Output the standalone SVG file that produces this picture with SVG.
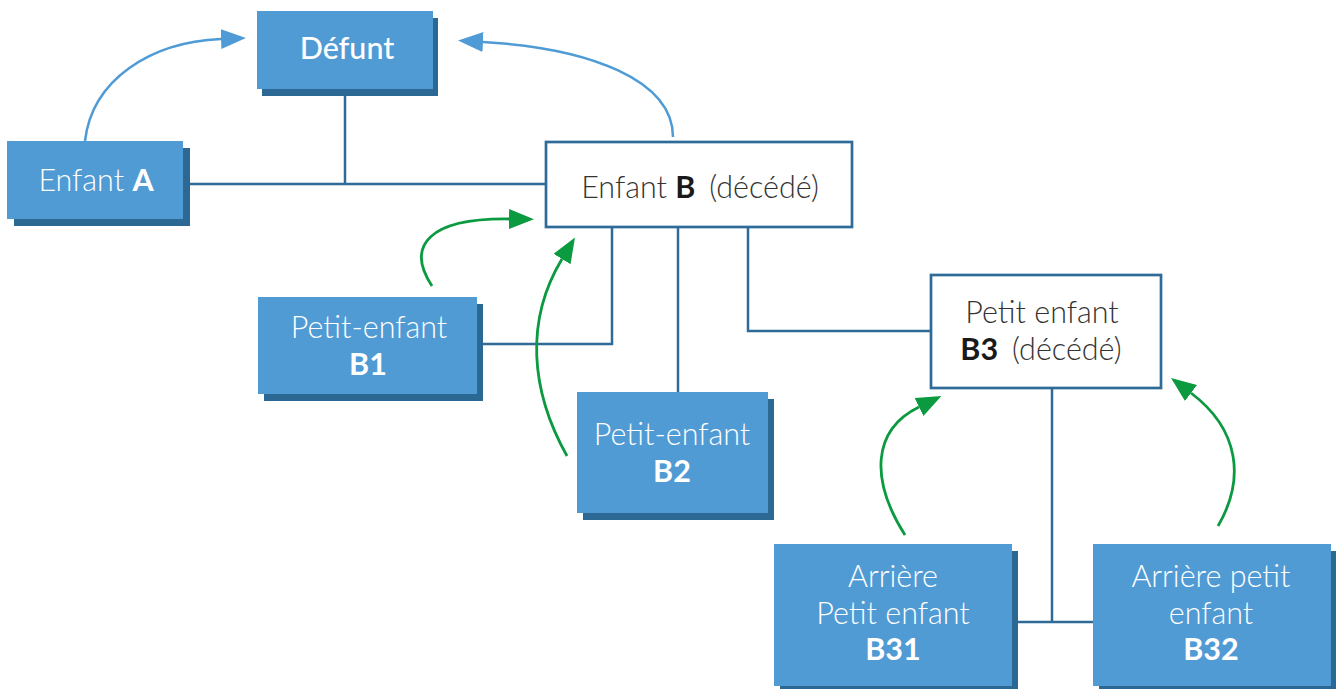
<svg xmlns="http://www.w3.org/2000/svg" width="1336" height="689" viewBox="0 0 1336 689">
<style>
.box{fill:#519bd5}
.sh{fill:#2b6893}
.wbox{fill:#ffffff;stroke:#2e6b98;stroke-width:2.7}
.ln{fill:none;stroke:#2e6b98;stroke-width:2.5}
.ab{fill:none;stroke:#4f9bd6;stroke-width:2.5}
.ag{fill:none;stroke:#0b9a40;stroke-width:2.8}
text{font-family:Lato,"Open Sans","Liberation Sans",sans-serif;font-size:30.5px;text-anchor:middle}
.wt{fill:#ffffff;font-weight:300}
.dt{fill:#333333;font-weight:300}
.b{font-weight:700}
.bk{fill:#1a1a1a;font-weight:700}
</style>
<defs>
<marker id="mb" markerUnits="userSpaceOnUse" markerWidth="26" markerHeight="20" refX="0" refY="10" orient="auto">
<path d="M0,0 L25,10 L0,20 z" fill="#4f9bd6"/>
</marker>
<marker id="mg" markerUnits="userSpaceOnUse" markerWidth="26" markerHeight="20" refX="0" refY="10" orient="auto">
<path d="M0,0 L25,10 L0,20 z" fill="#0b9a40"/>
</marker>
</defs>
<g id="connectors">
<path class="ln" d="M345,92 V184"/>
<path class="ln" d="M183,184 H546"/>
<path class="ln" d="M612,227 V344 H477"/>
<path class="ln" d="M678,227 V392"/>
<path class="ln" d="M748,227 V331 H931"/>
<path class="ln" d="M1052,388 V622"/>
<path class="ln" d="M1012,622 H1093"/>
<path class="ab" d="M85,141 C92,80 150,42 221,39" marker-end="url(#mb)"/>
<path class="ab" d="M673,137 C673,80 590,48 483,42" marker-end="url(#mb)"/>
<path class="ag" d="M432,286 C405,245 430,218 509,219" marker-end="url(#mg)"/>
<path class="ag" d="M567,456 C530,390 525,320 562,259" marker-end="url(#mg)"/>
<path class="ag" d="M905,535 C870,480 872,430 919,407" marker-end="url(#mg)"/>
<path class="ag" d="M1218,526 C1245,480 1240,430 1191,393" marker-end="url(#mg)"/>
</g>
<g id="defunt">
<rect class="sh" x="262" y="18" width="176" height="78"/>
<rect class="box" x="257" y="11" width="176" height="78"/>
<text class="wt" x="347" y="59" style="font-weight:500">Défunt</text>
</g>
<g id="enfantA">
<rect class="sh" x="14" y="148" width="176" height="78"/>
<rect class="box" x="7" y="141" width="176" height="78"/>
<text class="wt" x="96" y="191">Enfant <tspan class="b">A</tspan></text>
</g>
<g id="enfantB">
<rect class="wbox" x="546" y="142" width="306" height="85"/>
<text class="dt" x="700" y="198">Enfant <tspan class="bk">B</tspan><tspan dx="14">(décédé)</tspan></text>
</g>
<g id="petitB1">
<rect class="sh" x="264" y="304" width="219" height="97"/>
<rect class="box" x="258" y="297" width="219" height="97"/>
<text class="wt" x="369" y="338">Petit-enfant</text>
<text class="wt b" x="368" y="375">B1</text>
</g>
<g id="petitB2">
<rect class="sh" x="583" y="399" width="191" height="121"/>
<rect class="box" x="577" y="392" width="191" height="121"/>
<text class="wt" x="672" y="445">Petit-enfant</text>
<text class="wt b" x="672" y="482">B2</text>
</g>
<g id="petitB3">
<rect class="wbox" x="931" y="275" width="230" height="113"/>
<text class="dt" x="1042" y="323">Petit enfant</text>
<text class="dt" x="1041" y="360"><tspan class="bk">B3</tspan><tspan dx="14">(décédé)</tspan></text>
</g>
<g id="arriereB31">
<rect class="sh" x="780" y="551" width="238" height="142"/>
<rect class="box" x="774" y="544" width="238" height="142"/>
<text class="wt" x="893" y="587">Arrière</text>
<text class="wt" x="893" y="624">Petit enfant</text>
<text class="wt b" x="893" y="660">B31</text>
</g>
<g id="arriereB32">
<rect class="sh" x="1099" y="551" width="238" height="142"/>
<rect class="box" x="1093" y="544" width="238" height="142"/>
<text class="wt" x="1211" y="587">Arrière petit</text>
<text class="wt" x="1211" y="624">enfant</text>
<text class="wt b" x="1211" y="660">B32</text>
</g>
</svg>
